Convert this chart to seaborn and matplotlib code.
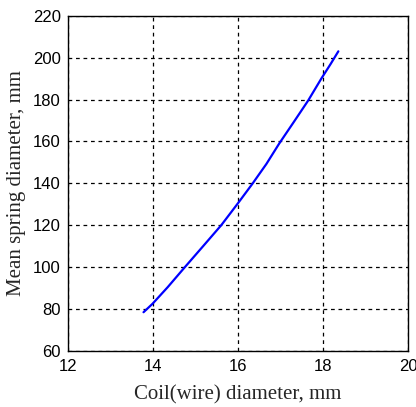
import matplotlib
matplotlib.use("Agg")
import matplotlib.pyplot as plt
import seaborn as sns
import pandas as pd

coil_d = [13.78, 13.99, 14.35, 14.73, 15.18, 15.61, 16.0, 16.34, 16.67, 16.97, 17.31, 17.65, 17.96, 18.18, 18.36]
mean_d = [78.5, 82.5, 90.5, 99.5, 110.0, 120.1, 130.5, 139.8, 149.3, 159.0, 169.2, 179.5, 190.0, 197.0, 203.0]

df = pd.DataFrame({"coil": coil_d, "mean": mean_d})

sns.set_style("white")
plt.rcParams['font.family'] = ['Liberation Sans', 'DejaVu Sans']

fig = plt.figure(figsize=(4.16, 4.07), dpi=100)
ax = fig.add_axes([0.163, 0.1376, 0.818, 0.8238])
sns.lineplot(data=df, x="coil", y="mean", ax=ax, color="#0000ff", linewidth=1.6, sort=False)

ax.set_xlim(12, 20)
ax.set_ylim(60, 220)
ax.set_xticks([12, 14, 16, 18, 20])
ax.set_yticks(list(range(60, 221, 20)))
ax.grid(True, color="black", linestyle=(0, (3, 3)), linewidth=0.9)
for s in ax.spines.values():
    s.set_visible(True)
    s.set_color("black")
    s.set_linewidth(1.0)
ax.tick_params(direction="in", length=3, labelsize=12, colors="black")
ax.tick_params(axis="x", pad=6)
ax.tick_params(axis="y", pad=5)
ax.set_xlabel("Coil(wire) diameter, mm", fontsize=15, family=['Liberation Serif'], labelpad=8)
ax.set_ylabel("Mean spring diameter, mm", fontsize=15, family=['Liberation Serif'], labelpad=5)

fig.savefig("out.png", dpi=100)
